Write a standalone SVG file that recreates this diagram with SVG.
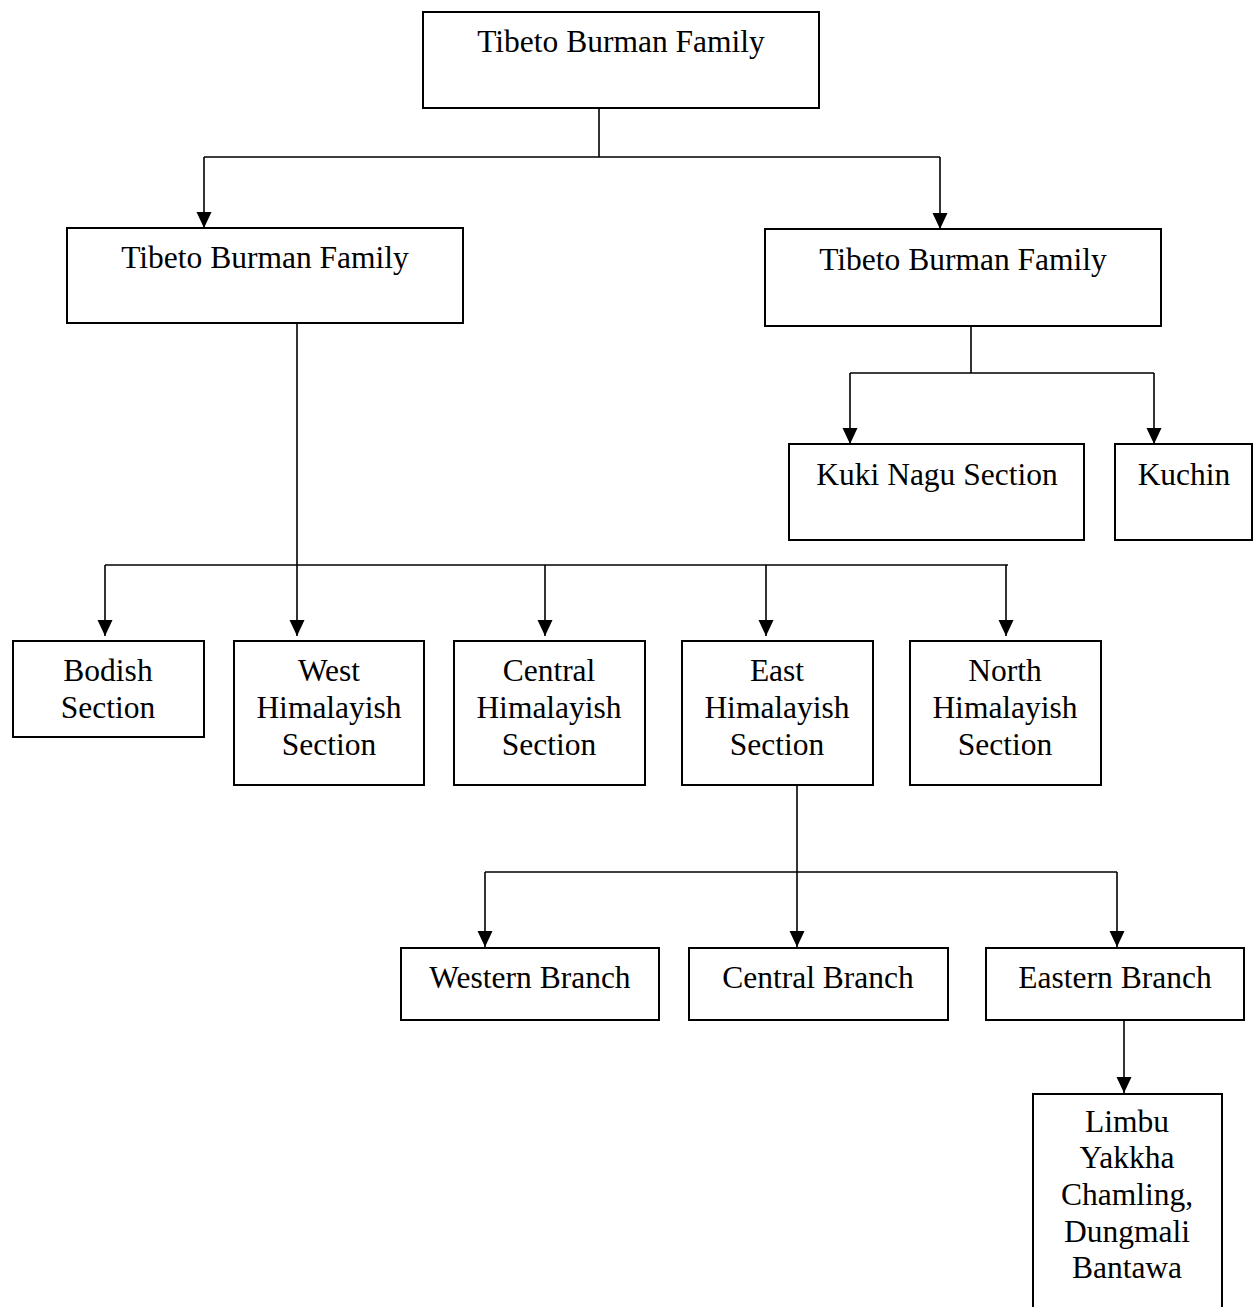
<svg xmlns="http://www.w3.org/2000/svg" width="1259" height="1307" viewBox="0 0 1259 1307">
<style>
.box{fill:#fff;stroke:#000;stroke-width:2}
.lbl{font-family:"Liberation Serif","Times New Roman",serif;font-size:31.5px;fill:#000;text-anchor:middle}
.ln{fill:none;stroke:#000;stroke-width:1.6}
</style>
<defs>
<marker id="ah" markerUnits="userSpaceOnUse" markerWidth="16" markerHeight="16" refX="16" refY="7.5" orient="auto" viewBox="0 0 16 15">
<path d="M0,0 L16,7.5 L0,15 z" fill="#000"/>
</marker>
</defs>
<rect width="1259" height="1307" fill="#fff"/>
<g id="connectors">
<path class="ln" d="M599,108 V157 M204,157 H940"/>
<path class="ln" d="M204,157 V228" marker-end="url(#ah)"/>
<path class="ln" d="M940,157 V229" marker-end="url(#ah)"/>
<path class="ln" d="M971,326 V373 M850,373 H1154"/>
<path class="ln" d="M850,373 V444" marker-end="url(#ah)"/>
<path class="ln" d="M1154,373 V444" marker-end="url(#ah)"/>
<path class="ln" d="M105,565 H1008"/>
<path class="ln" d="M297,323 V636" marker-end="url(#ah)"/>
<path class="ln" d="M105,565 V636" marker-end="url(#ah)"/>
<path class="ln" d="M545,565 V636" marker-end="url(#ah)"/>
<path class="ln" d="M766,565 V636" marker-end="url(#ah)"/>
<path class="ln" d="M1006,565 V636" marker-end="url(#ah)"/>
<path class="ln" d="M797,780 V947" marker-end="url(#ah)"/>
<path class="ln" d="M485,872 H1117"/>
<path class="ln" d="M485,872 V947" marker-end="url(#ah)"/>
<path class="ln" d="M1117,872 V947" marker-end="url(#ah)"/>
<path class="ln" d="M1124,1020 V1093" marker-end="url(#ah)"/>
</g>
<g id="n_root"><rect class="box" x="423" y="12" width="396" height="96"/><text class="lbl" x="621" y="52">Tibeto Burman Family</text></g>
<g id="n_left"><rect class="box" x="67" y="228" width="396" height="95"/><text class="lbl" x="265" y="268">Tibeto Burman Family</text></g>
<g id="n_right"><rect class="box" x="765" y="229" width="396" height="97"/><text class="lbl" x="963" y="270">Tibeto Burman Family</text></g>
<g id="n_kuki"><rect class="box" x="789" y="444" width="295" height="96"/><text class="lbl" x="937" y="485">Kuki Nagu Section</text></g>
<g id="n_kuchin"><rect class="box" x="1115" y="444" width="137" height="96"/><text class="lbl" x="1184" y="485">Kuchin</text></g>
<g id="n_bodish"><rect class="box" x="13" y="641" width="191" height="96"/><text class="lbl" x="108" y="681">Bodish</text><text class="lbl" x="108" y="718">Section</text></g>
<g id="n_west"><rect class="box" x="234" y="641" width="190" height="144"/><text class="lbl" x="329" y="681">West</text><text class="lbl" x="329" y="718">Himalayish</text><text class="lbl" x="329" y="755">Section</text></g>
<g id="n_central"><rect class="box" x="454" y="641" width="191" height="144"/><text class="lbl" x="549" y="681">Central</text><text class="lbl" x="549" y="718">Himalayish</text><text class="lbl" x="549" y="755">Section</text></g>
<g id="n_east"><rect class="box" x="682" y="641" width="191" height="144"/><text class="lbl" x="777" y="681">East</text><text class="lbl" x="777" y="718">Himalayish</text><text class="lbl" x="777" y="755">Section</text></g>
<g id="n_north"><rect class="box" x="910" y="641" width="191" height="144"/><text class="lbl" x="1005" y="681">North</text><text class="lbl" x="1005" y="718">Himalayish</text><text class="lbl" x="1005" y="755">Section</text></g>
<g id="n_western"><rect class="box" x="401" y="948" width="258" height="72"/><text class="lbl" x="530" y="988">Western Branch</text></g>
<g id="n_centralb"><rect class="box" x="689" y="948" width="259" height="72"/><text class="lbl" x="818" y="988">Central Branch</text></g>
<g id="n_eastern"><rect class="box" x="986" y="948" width="258" height="72"/><text class="lbl" x="1115" y="988">Eastern Branch</text></g>
<g id="n_limbu"><rect class="box" x="1033" y="1094" width="189" height="240"/><text class="lbl" x="1127" y="1132">Limbu</text><text class="lbl" x="1127" y="1168">Yakkha</text><text class="lbl" x="1127" y="1205">Chamling,</text><text class="lbl" x="1127" y="1242">Dungmali</text><text class="lbl" x="1127" y="1278">Bantawa</text></g>
</svg>
